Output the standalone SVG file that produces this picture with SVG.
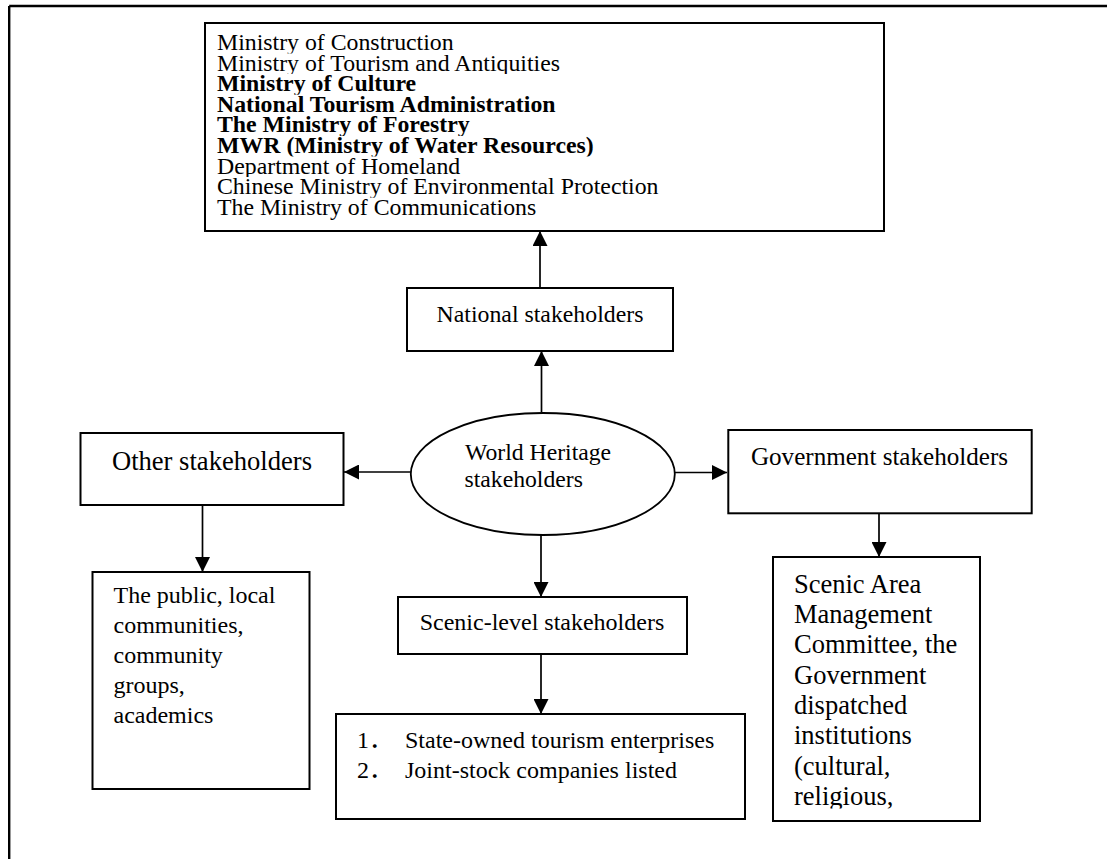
<svg xmlns="http://www.w3.org/2000/svg" width="1107" height="859" viewBox="0 0 1107 859">
<style>
.box{fill:#fff;stroke:#000;stroke-width:2}
.t{font-family:"Liberation Serif","Times New Roman",serif;fill:#000}
.b{font-weight:bold}
.c{text-anchor:middle}
.conn{stroke:#000;stroke-width:1.7;fill:none;marker-end:url(#ah)}
</style>
<defs>
<marker id="ah" viewBox="0 0 15 15" refX="15" refY="7.5" markerWidth="15" markerHeight="15" markerUnits="userSpaceOnUse" orient="auto">
<path d="M0,0 L15,7.5 L0,15 z" fill="#000"/>
</marker>
<clipPath id="clipScenic"><rect x="773" y="557" width="207" height="251.5"/></clipPath>
<clipPath id="l1"><rect x="206" y="24" width="677" height="29.5"/></clipPath>
<clipPath id="l2"><rect x="206" y="53.5" width="677" height="20.6"/></clipPath>
<clipPath id="l3"><rect x="206" y="74.1" width="677" height="20.6"/></clipPath>
<clipPath id="l4"><rect x="206" y="94.7" width="677" height="20.6"/></clipPath>
<clipPath id="l5"><rect x="206" y="115.3" width="677" height="20.6"/></clipPath>
<clipPath id="l6"><rect x="206" y="135.9" width="677" height="20.6"/></clipPath>
<clipPath id="l7"><rect x="206" y="156.5" width="677" height="20.6"/></clipPath>
<clipPath id="l8"><rect x="206" y="177.1" width="677" height="20.6"/></clipPath>
<clipPath id="l9"><rect x="206" y="197.7" width="677" height="32"/></clipPath>
</defs>
<rect width="1107" height="859" fill="#fff"/>
<g id="frame" stroke="#000" stroke-width="2.4" fill="none">
<line x1="9.2" y1="6" x2="1107" y2="6"/>
<line x1="9.2" y1="6" x2="9.2" y2="859"/>
</g>
<g id="connectors">
<line class="conn" x1="540" y1="288" x2="540" y2="231"/>
<line class="conn" x1="541.5" y1="412" x2="541.5" y2="351"/>
<line class="conn" x1="411" y1="472" x2="344" y2="472"/>
<line class="conn" x1="674.5" y1="472.5" x2="727" y2="472.5"/>
<line class="conn" x1="541" y1="535" x2="541" y2="597"/>
<line class="conn" x1="541" y1="654" x2="541" y2="714"/>
<line class="conn" x1="202.5" y1="505" x2="202.5" y2="572"/>
<line class="conn" x1="879" y1="513" x2="879" y2="557"/>
</g>
<g id="node-ministries">
<rect class="box" x="205" y="23" width="679" height="208"/>
<g class="t" font-size="23.8">
<text x="217" y="50" clip-path="url(#l1)">Ministry of Construction</text>
<text x="217" y="70.6" clip-path="url(#l2)">Ministry of Tourism and Antiquities</text>
<text class="b" x="217" y="91.2" clip-path="url(#l3)">Ministry of Culture</text>
<text class="b" x="217" y="111.8" clip-path="url(#l4)">National Tourism Administration</text>
<text class="b" x="217" y="132.4" clip-path="url(#l5)">The Ministry of Forestry</text>
<text class="b" x="217" y="153" clip-path="url(#l6)">MWR (Ministry of Water Resources)</text>
<text x="217" y="173.6" clip-path="url(#l7)">Department of Homeland</text>
<text x="217" y="194.2" clip-path="url(#l8)">Chinese Ministry of Environmental Protection</text>
<text x="217" y="214.8" clip-path="url(#l9)">The Ministry of Communications</text>
</g>
</g>
<g id="node-national">
<rect class="box" x="407" y="288" width="266" height="63"/>
<text class="t c" x="540" y="321.7" font-size="23.8">National stakeholders</text>
</g>
<g id="node-world-heritage">
<ellipse cx="542.8" cy="474" rx="132" ry="61" fill="#fff" stroke="#000" stroke-width="1.8"/>
<text class="t" x="465" y="460" font-size="23.7">World Heritage</text>
<text class="t" x="464.5" y="487.3" font-size="23.7">stakeholders</text>
</g>
<g id="node-other">
<rect class="box" x="80.5" y="433" width="263" height="72"/>
<text class="t c" x="212" y="470" font-size="26.6">Other stakeholders</text>
</g>
<g id="node-government">
<rect class="box" x="728.3" y="430" width="303.4" height="83.3"/>
<text class="t c" x="879.5" y="465" font-size="25.1">Government stakeholders</text>
</g>
<g id="node-public">
<rect class="box" x="92.5" y="572" width="217" height="217"/>
<g class="t" font-size="24">
<text x="113.5" y="603.3">The public, local</text>
<text x="113.5" y="633">communities,</text>
<text x="113.5" y="663">community</text>
<text x="113.5" y="693">groups,</text>
<text x="113.5" y="723">academics</text>
</g>
</g>
<g id="node-scenic-level">
<rect class="box" x="398" y="597" width="289" height="57"/>
<text class="t c" x="542" y="630" font-size="24">Scenic-level stakeholders</text>
</g>
<g id="node-enterprises">
<rect class="box" x="336" y="714" width="409" height="105"/>
<g class="t" font-size="24">
<text x="357" y="748.3" font-family="'Liberation Serif','Noto Sans CJK SC',serif">1．</text>
<text x="405" y="748.3">State-owned tourism enterprises</text>
<text x="357" y="778" font-family="'Liberation Serif','Noto Sans CJK SC',serif">2．</text>
<text x="405" y="778">Joint-stock companies listed</text>
</g>
</g>
<g id="node-scenic-area">
<rect class="box" x="773" y="557" width="207" height="264"/>
<g class="t" font-size="26.5" clip-path="url(#clipScenic)">
<text x="794" y="592.7">Scenic Area</text>
<text x="794" y="623">Management</text>
<text x="794" y="653.3">Committee, the</text>
<text x="794" y="683.6">Government</text>
<text x="794" y="714">dispatched</text>
<text x="794" y="744.2">institutions</text>
<text x="794" y="774.5">(cultural,</text>
<text x="794" y="804.8">religious,</text>
</g>
</g>
</svg>
